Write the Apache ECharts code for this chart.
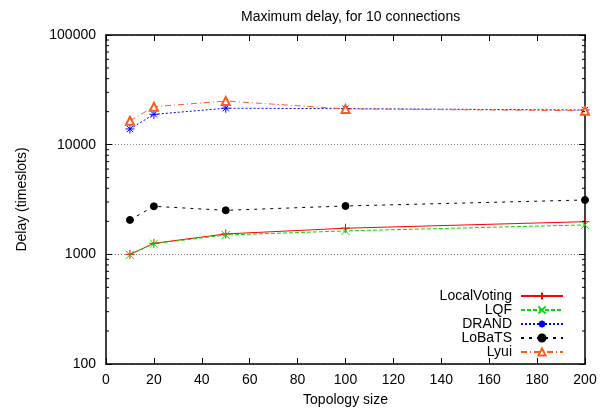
<!DOCTYPE html>
<html><head><meta charset="utf-8">
<script src="https://cdn.jsdelivr.net/npm/echarts@6/dist/echarts.min.js"></script>
<style>html,body{margin:0;padding:0;background:#fff}#c{width:604px;height:415px}</style>
</head><body><div id="c"></div>
<script>
const xValues = [10, 20, 50, 100, 200];
const localVoting = [1000, 1260, 1535, 1730, 1985];
const lqf = [990, 1250, 1500, 1635, 1855];
const drand = [13900, 18900, 21500, 21300, 20700];
const lobats = [2060, 2740, 2520, 2760, 3130];
const lyui = [16500, 22200, 25000, 21200, 20400];
const seriesNames = ['LocalVoting', 'LQF', 'DRAND', 'LoBaTS', 'Lyui'];
const minorTicks = [200,300,400,500,600,700,800,900,2000,3000,4000,5000,6000,7000,8000,9000,20000,30000,40000,50000,60000,70000,80000,90000];

const FONT = "'Liberation Sans', Arial, Helvetica, sans-serif";
const chart = echarts.init(document.getElementById('c'), null, {renderer: 'canvas'});
const pts = arr => xValues.map((x, i) => [x, arr[i]]);
const plusPath = 'path://M5,0 L5,10 M0,5 L10,5';
const xPath = 'path://M0,0 L10,10 M10,0 L0,10';
const starPath = 'path://M5,0 L5,10 M0,5 L10,5 M1.5,1.5 L8.5,8.5 M8.5,1.5 L1.5,8.5';

function lineSeries(name, data, color, type, width, symbol, size, fill) {
  return {
    name, type: 'line', data: pts(data), smooth: false,
    symbol, symbolSize: size, showSymbol: true,
    lineStyle: {color, width, type},
    itemStyle: {color: fill || color, borderColor: color, borderWidth: 1},
    emphasis: {disabled: true}, z: 3
  };
}

const axisCommon = {
  axisLine: {show: true, onZero: false, lineStyle: {color: '#000', width: 1.5}},
  axisTick: {show: true, inside: true, length: 6, lineStyle: {color: '#000', width: 1}}
};
const txt = {fontFamily: FONT, fontSize: 14, color: '#000'};

chart.setOption({
  animation: false,
  textStyle: {fontFamily: FONT},
  title: {text: 'Maximum delay, for 10 connections', left: 236, top: 5,
    textStyle: Object.assign({fontWeight: 'normal'}, txt)},
  grid: {left: 106, right: 19, top: 35, bottom: 51},
  legend: {
    orient: 'vertical', right: 35, top: 284, align: 'right',
    itemWidth: 42, itemHeight: 9, itemGap: 0,
    data: seriesNames,
    textStyle: Object.assign({lineHeight: 14, padding: [0, 4, 0, 0]}, txt)
  },
  xAxis: [
    Object.assign({type: 'value', min: 0, max: 200, interval: 20, position: 'bottom',
      name: 'Topology size', nameLocation: 'middle', nameGap: 29,
      nameTextStyle: txt,
      axisLabel: Object.assign({margin: 9}, txt),
      splitLine: {show: false}}, axisCommon),
    Object.assign({type: 'value', min: 0, max: 200, interval: 20, position: 'top',
      axisLabel: {show: false}, splitLine: {show: false}}, axisCommon)
  ],
  yAxis: [
    Object.assign({type: 'log', logBase: 10, min: 100, max: 100000, position: 'left',
      name: 'Delay (timeslots)', nameLocation: 'middle', nameGap: 77, nameRotate: 90,
      nameTextStyle: txt,
      axisLabel: Object.assign({margin: 10, formatter: v => String(Math.round(v))}, txt),
      splitLine: {show: true, lineStyle: {color: '#888', width: 1, type: [1, 2]}}}, axisCommon),
    Object.assign({type: 'log', logBase: 10, min: 100, max: 100000, position: 'right',
      axisLabel: {show: false}, splitLine: {show: false}}, axisCommon)
  ],
  series: [
    lineSeries('LocalVoting', localVoting, '#ff0000', 'solid', 1, plusPath, 9),
    lineSeries('LQF', lqf, '#00dd00', [4, 2], 1, xPath, 8),
    lineSeries('DRAND', drand, '#0000ff', [2, 2], 1, starPath, 9),
    lineSeries('LoBaTS', lobats, '#000000', [3, 5], 1, 'circle', 7, '#000'),
    lineSeries('Lyui', lyui, '#ff5a1e', [6, 3, 1, 3], 1, 'emptyTriangle', 8),
    {
      type: 'custom', silent: true, z: 5,
      xAxisIndex: 0, yAxisIndex: 0,
      data: minorTicks.map(v => [0, v]),
      encode: {x: 0, y: 1},
      renderItem: function (params, api) {
        const p = api.coord([0, api.value(1)]);
        const cs = params.coordSys;
        const st = {stroke: '#000', lineWidth: 1};
        return {type: 'group', children: [
          {type: 'line', shape: {x1: cs.x, y1: p[1], x2: cs.x + 3, y2: p[1]}, style: st},
          {type: 'line', shape: {x1: cs.x + cs.width, y1: p[1], x2: cs.x + cs.width - 3, y2: p[1]}, style: st}
        ]};
      }
    }
  ]
});
</script></body></html>
